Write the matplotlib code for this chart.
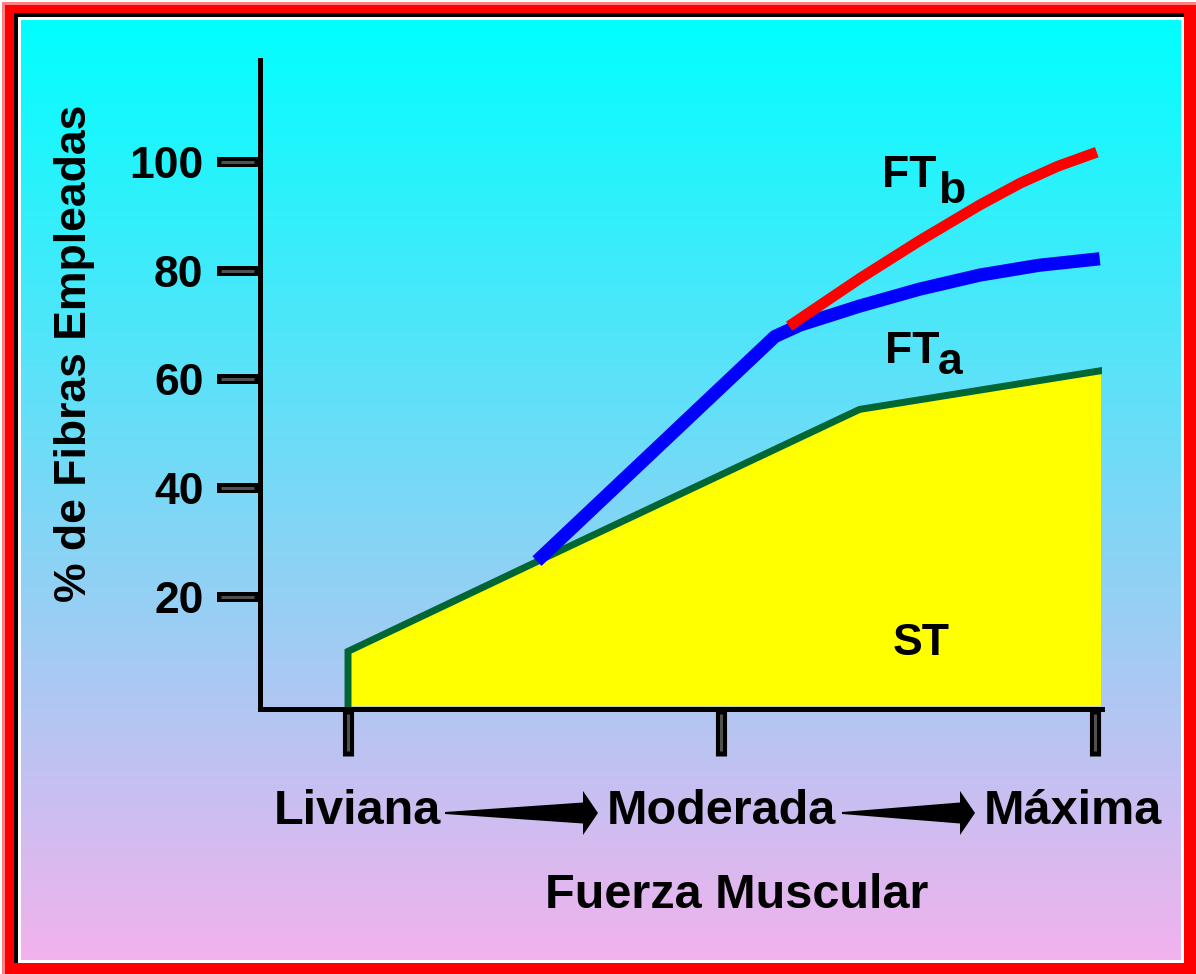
import numpy as np
import matplotlib
matplotlib.use("Agg")
import matplotlib.pyplot as plt
from matplotlib.patches import Rectangle, Polygon
from matplotlib.transforms import blended_transform_factory

plt.rcParams['font.family'] = ['Liberation Sans', 'DejaVu Sans']
plt.rcParams['font.weight'] = 'bold'

# --- data ---
st_x    = [0.0, 0.0, 0.506, 1.37, 2.015]
st_y    = [0.0, 10.0, 26.5, 54.5, 61.6]

fta_x   = [0.506, 1.143, 1.21, 1.37, 1.53, 1.692, 1.85, 2.013]
fta_y   = [26.6, 67.9, 70.0, 73.5, 76.6, 79.2, 81.0, 82.2]

ftb_x   = [1.181, 1.371, 1.53, 1.692, 1.80, 1.90, 2.005]
ftb_y   = [69.8, 78.6, 85.5, 92.1, 96.1, 99.2, 101.8]

x_ticks     = [0, 1, 2]
x_labels    = ["Liviana", "Moderada", "Máxima"]
x_label_off = [0.025, 0.0, -0.06]
y_ticks     = [20, 40, 60, 80, 100]

W, H = 1196, 974
FS = 32
FSX = 35

fig = plt.figure(figsize=(W / 100, H / 100), dpi=100, facecolor='white')

# background layer in pixel coordinates
bg = fig.add_axes([0, 0, 1, 1])
bg.axis('off')
bg.add_patch(Rectangle((2, 2), W, H, color='#ff8080', lw=0, zorder=1))
bg.add_patch(Rectangle((5, 5), W, H, color='#ff0000', lw=0, zorder=1))
bg.add_patch(Rectangle((14, 13), 1170, 950, color='black', lw=0, zorder=1))
bg.add_patch(Rectangle((18, 17), 1166, 946, color='white', lw=0, zorder=1))
top = np.array([0, 255, 255]) / 255.0
bot = np.array([242, 178, 238]) / 255.0
t = np.linspace(0, 1, 256)[:, None, None]
grad = top * (1 - t) + bot * t
bg.imshow(grad, extent=[21, 1181, 960, 20], aspect='auto', interpolation='bilinear', zorder=2)
bg.set_xlim(0, W)
bg.set_ylim(H, 0)


def wedge(x0, x1, yc):
    head = 15
    pts = [(x0, yc - 1), (x1 - head, yc - 10.5), (x1 - head, yc - 22), (x1, yc),
           (x1 - head, yc + 22), (x1 - head, yc + 10.5), (x0, yc + 1)]
    bg.add_patch(Polygon(pts, closed=True, color='black', lw=0, zorder=3))


wedge(445, 598, 813)
wedge(842, 975, 813)

# main chart
ax = fig.add_axes([259.5 / W, (H - 708.5) / H, (1102 - 259.5) / W, (708.5 - 60) / H])
ax.set_facecolor('none')
ax.set_xlim(-0.237, 2.019)
ax.set_ylim(-0.506, 118.75)

ax.fill_between(st_x, st_y, 0, color='#ffff00', lw=0, zorder=2)
ax.plot(st_x, st_y, color='#006633', lw=5, zorder=3, solid_joinstyle='miter')
ax.plot(fta_x, fta_y, color='#0000ff', lw=9.5, zorder=4, solid_capstyle='butt')
ax.plot(ftb_x, ftb_y, color='#ff0000', lw=7.8, zorder=5, solid_capstyle='butt')

for s in ['top', 'right']:
    ax.spines[s].set_visible(False)
for s in ['left', 'bottom']:
    ax.spines[s].set_linewidth(3.6)
    ax.spines[s].set_color('black')
    ax.spines[s].set_zorder(6)

ax.set_yticks(y_ticks)
ax.set_yticklabels([str(v) for v in y_ticks], fontsize=FS, fontweight='bold')
ax.tick_params(axis='y', length=31, width=7.2, color='black', pad=9.4)
ax.set_xticks(x_ticks)
ax.tick_params(axis='x', length=33.5, width=8, color='black', labelbottom=False)

# grey centre of the double-line tick marks
ty = blended_transform_factory(ax.transAxes, ax.transData)
for v in y_ticks:
    ax.plot([-0.046, -0.006], [v, v], color='#505050', lw=2.2, transform=ty,
            clip_on=False, zorder=7, solid_capstyle='butt')
tx = blended_transform_factory(ax.transData, ax.transAxes)
for v in x_ticks:
    ax.plot([v, v], [-0.009, -0.066], color='#505050', lw=2.2, transform=tx,
            clip_on=False, zorder=7, solid_capstyle='butt')

# texts
for x, lab, off in zip(x_ticks, x_labels, x_label_off):
    xp = 348 + (x + off) * 373.5
    bg.text(xp, 824, lab, fontsize=FSX, fontweight='bold', ha='center', va='baseline', zorder=4)
bg.text(737, 908, "Fuerza Muscular", fontsize=FSX, fontweight='bold', ha='center',
        va='baseline', zorder=4)
bg.text(75, 353, "% de Fibras Empleadas", fontsize=FS, fontweight='bold', rotation=90,
        ha='center', va='center', zorder=4)

# series labels sit on top of the chart layer
pix = bg.transData
for px, py, s in [(882, 187, "FT"), (938, 203, "b"), (885, 363, "FT"),
                  (938, 374, "a"), (893, 655, "ST")]:
    ax.text(px, py, s, fontsize=FS, fontweight='bold', va='baseline', transform=pix,
            zorder=8, clip_on=False)

fig.savefig('out.png', dpi=100, facecolor=fig.get_facecolor())
